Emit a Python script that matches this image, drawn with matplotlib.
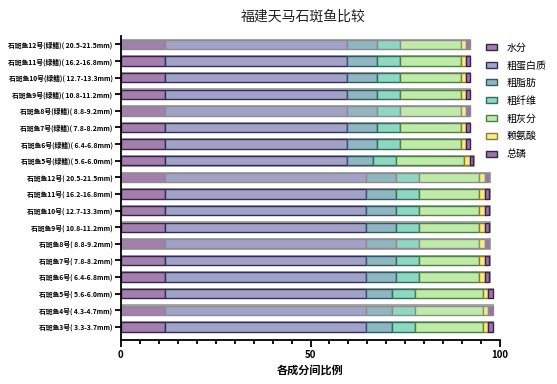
import matplotlib
matplotlib.use("Agg")
import matplotlib.pyplot as plt
import numpy as np
from matplotlib.patches import Patch

plt.rcParams['font.family'] = ['Noto Sans CJK SC', 'DejaVu Sans']

labels = [
    "石斑鱼12号(绿鳍)( 20.5-21.5mm)",
    "石斑鱼11号(绿鳍)( 16.2-16.8mm)",
    "石斑鱼10号(绿鳍)( 12.7-13.3mm)",
    "石斑鱼9号(绿鳍)( 10.8-11.2mm)",
    "石斑鱼8号(绿鳍)( 8.8-9.2mm)",
    "石斑鱼7号(绿鳍)( 7.8-8.2mm)",
    "石斑鱼6号(绿鳍)( 6.4-6.8mm)",
    "石斑鱼5号(绿鳍)( 5.6-6.0mm)",
    "石斑鱼12号( 20.5-21.5mm)",
    "石斑鱼11号( 16.2-16.8mm)",
    "石斑鱼10号( 12.7-13.3mm)",
    "石斑鱼9号( 10.8-11.2mm)",
    "石斑鱼8号( 8.8-9.2mm)",
    "石斑鱼7号( 7.8-8.2mm)",
    "石斑鱼6号( 6.4-6.8mm)",
    "石斑鱼5号( 5.6-6.0mm)",
    "石斑鱼4号( 4.3-4.7mm)",
    "石斑鱼3号( 3.3-3.7mm)",
]

components = ["水分", "粗蛋白质", "粗脂肪", "粗纤维", "粗灰分", "赖氨酸", "总磷"]

moisture = [11.6]*18
protein  = [48.0]*8 + [53.0]*10
fat      = [7.9]*7 + [6.9] + [7.9]*7 + [6.9]*3
fiber    = [6.0]*7 + [6.1] + [6.0]*10
ash      = [16.1]*7 + [17.9] + [15.9]*7 + [18.0]*3
lysine   = [1.3]*7 + [1.5] + [1.5]*7 + [1.4]*3
phosph   = [1.1]*7 + [0.9] + [1.2]*7 + [1.1]*3

series = [moisture, protein, fat, fiber, ash, lysine, phosph]

face_colors = ['#A27FAC', '#A2A2C9', '#8FB6C1', '#8ED7C1', '#BFEAA8', '#F7EC8A', '#9B72AC']
edge_colors = ['#3B2248', '#30305A', '#2F5A66', '#2F6F60', '#4F7F45', '#8C7D2A', '#3B2248']
grey_rows = {0, 4, 8, 12, 16}

fig = plt.figure(figsize=(5.57, 3.84), dpi=100)
ax = fig.add_axes([0.217, 0.115, 0.681, 0.791])

n = len(labels)
ypos = np.arange(n)[::-1]  # top row first
data = np.array(series)
totals = data.sum(axis=0)

ax.barh(ypos, totals + 0.4, height=0.70, color='#a8a8a8', edgecolor='none', zorder=1)
left = np.zeros(n)
for k, comp in enumerate(components):
    vals = data[k]
    ecs = ['#8c8c8c' if i in grey_rows else edge_colors[k] for i in range(n)]
    ax.barh(ypos, vals, left=left, height=0.56, color=face_colors[k],
            edgecolor=ecs, linewidth=1.0, zorder=2)
    left += vals

ax.set_xlim(0, 100)
ax.set_ylim(-0.78, n - 1 + 0.5)
ax.set_yticks(ypos)
ax.set_yticklabels(labels, fontsize=4.9, fontweight='bold')
ax.set_xticks([0, 50, 100])
ax.set_xticks(np.arange(0, 101, 5), minor=True)
ax.set_xticklabels(['0', '50', '100'], fontsize=7, fontweight='bold')
ax.tick_params(axis='x', which='major', length=5, width=1.3, pad=2)
ax.tick_params(axis='x', which='minor', length=3, width=1.3)
ax.tick_params(axis='y', length=4, width=1.3, pad=2)
for s in ['top', 'right']:
    ax.spines[s].set_visible(False)
ax.spines['left'].set_linewidth(1.3)
ax.spines['bottom'].set_linewidth(1.3)
ax.set_xlabel("各成分间比例", fontsize=8, fontweight='bold', labelpad=3)

fig.text(0.545, 0.957, "福建天马石斑鱼比较", ha='center', va='center', fontsize=10, color='#222222')

handles = [Patch(facecolor=face_colors[k], edgecolor=edge_colors[k], linewidth=1.0) for k in range(len(components))]
fig.legend(handles, components, loc='upper left', bbox_to_anchor=(0.866, 0.9),
           frameon=False, fontsize=7.2, handlelength=1.1, handleheight=0.55,
           labelspacing=0.78, handletextpad=0.9, borderaxespad=0)

fig.savefig("out.png", dpi=100)
